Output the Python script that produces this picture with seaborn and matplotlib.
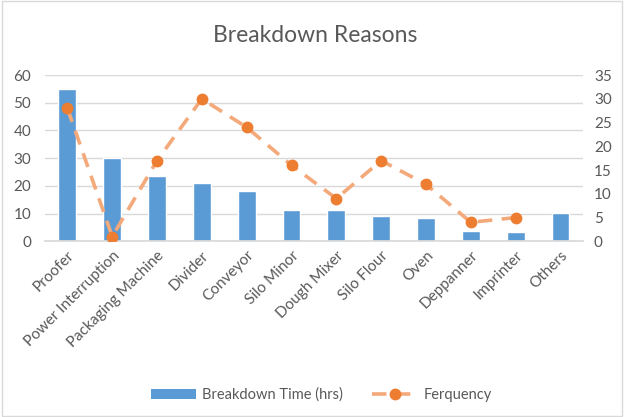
import numpy as np
import pandas as pd
import matplotlib
matplotlib.use("Agg")
import matplotlib.pyplot as plt
from matplotlib.lines import Line2D
from matplotlib.patches import Patch, Rectangle
import seaborn as sns

categories = ["Proofer", "Power Interruption", "Packaging Machine", "Divider",
              "Conveyor", "Silo Minor", "Dough Mixer", "Silo Flour", "Oven",
              "Deppanner", "Imprinter", "Others"]
breakdown_hours = [55, 30, 23.5, 21, 18, 11.2, 11.2, 9.2, 8.5, 3.8, 3.5, 10.3]
frequency = [28, 1, 17, 30, 24, 16, 9, 17, 12, 4, 5, np.nan]
left_ticks = [0, 10, 20, 30, 40, 50, 60]
right_ticks = [0, 5, 10, 15, 20, 25, 30, 35]

sns.set_theme(style="white")
plt.rcParams["font.family"] = ["Lato", "DejaVu Sans"]

grey = "#595959"
bar_blue = "#5B9BD5"
line_orange = "#F4A97A"
marker_orange = "#ED7D31"

df = pd.DataFrame({"reason": categories, "hours": breakdown_hours, "freq": frequency})
n = len(categories)

fig = plt.figure(figsize=(6.24, 4.17), dpi=100)
ax = fig.add_axes([0.0721, 0.4213, 0.862, 0.3987])

sns.barplot(data=df, x="reason", y="hours", color=bar_blue, saturation=1,
            width=0.4, ax=ax, zorder=2)
ax.set_ylim(0, 60)
ax.set_yticks(left_ticks)
ax.grid(axis="y", color="#D9D9D9", linewidth=1, zorder=0)
ax.set_axisbelow(True)
for s in ["left", "right", "top"]:
    ax.spines[s].set_visible(False)
ax.spines["bottom"].set_color("#D9D9D9")
ax.tick_params(axis="both", length=0, colors=grey, labelsize=11)
ax.set_xlabel("")
ax.set_ylabel("")
ax.set_xticks(range(n))
ax.set_xticklabels(categories, rotation=45, ha="right", rotation_mode="anchor",
                   fontsize=11, color=grey)
ax.tick_params(axis="x", pad=5)
ax.tick_params(axis="y", pad=10)

ax2 = ax.twinx()
pos = np.arange(n)
sns.lineplot(x=pos, y=df["freq"].values, ax=ax2, color=line_orange, linewidth=2.6,
             zorder=3)
ax2.lines[0].set_dashes((4, 2.6))
ax2.plot(pos, df["freq"].values, linestyle="none", marker="o", markersize=7.5,
         color=marker_orange, zorder=4)
ax2.set_ylim(0, 35)
ax2.set_yticks(right_ticks)
for s in ["left", "right", "top", "bottom"]:
    ax2.spines[s].set_visible(False)
ax2.tick_params(axis="y", length=0, colors=grey, labelsize=11, pad=8)
ax2.grid(False)

# one category slot per label, no extra margin from the twin axis
ax.set_xlim(-0.5, n - 0.5)
ax2.set_xlim(-0.5, n - 0.5)

fig.text(0.505, 0.915, "Breakdown Reasons", ha="center", va="center",
         fontsize=16.5, color=grey)

handles = [Patch(facecolor=bar_blue, edgecolor="none"),
           Line2D([0], [0], color=line_orange, linewidth=2.6, dashes=(4, 2.6),
                  marker="o", markersize=7.5, markerfacecolor=marker_orange,
                  markeredgecolor=marker_orange)]
fig.legend(handles, ["Breakdown Time (hrs)", "Ferquency"], loc="center",
           bbox_to_anchor=(0.515, 0.053), ncol=2, frameon=False, fontsize=10.5,
           labelcolor=grey, handlelength=3.1, columnspacing=2.0, handletextpad=0.4)

fig.patches.append(Rectangle((0.004, 0.003), 0.993, 0.994, transform=fig.transFigure,
                             fill=False, edgecolor="#D9D9D9", linewidth=1))

fig.savefig("out.png", dpi=100)
